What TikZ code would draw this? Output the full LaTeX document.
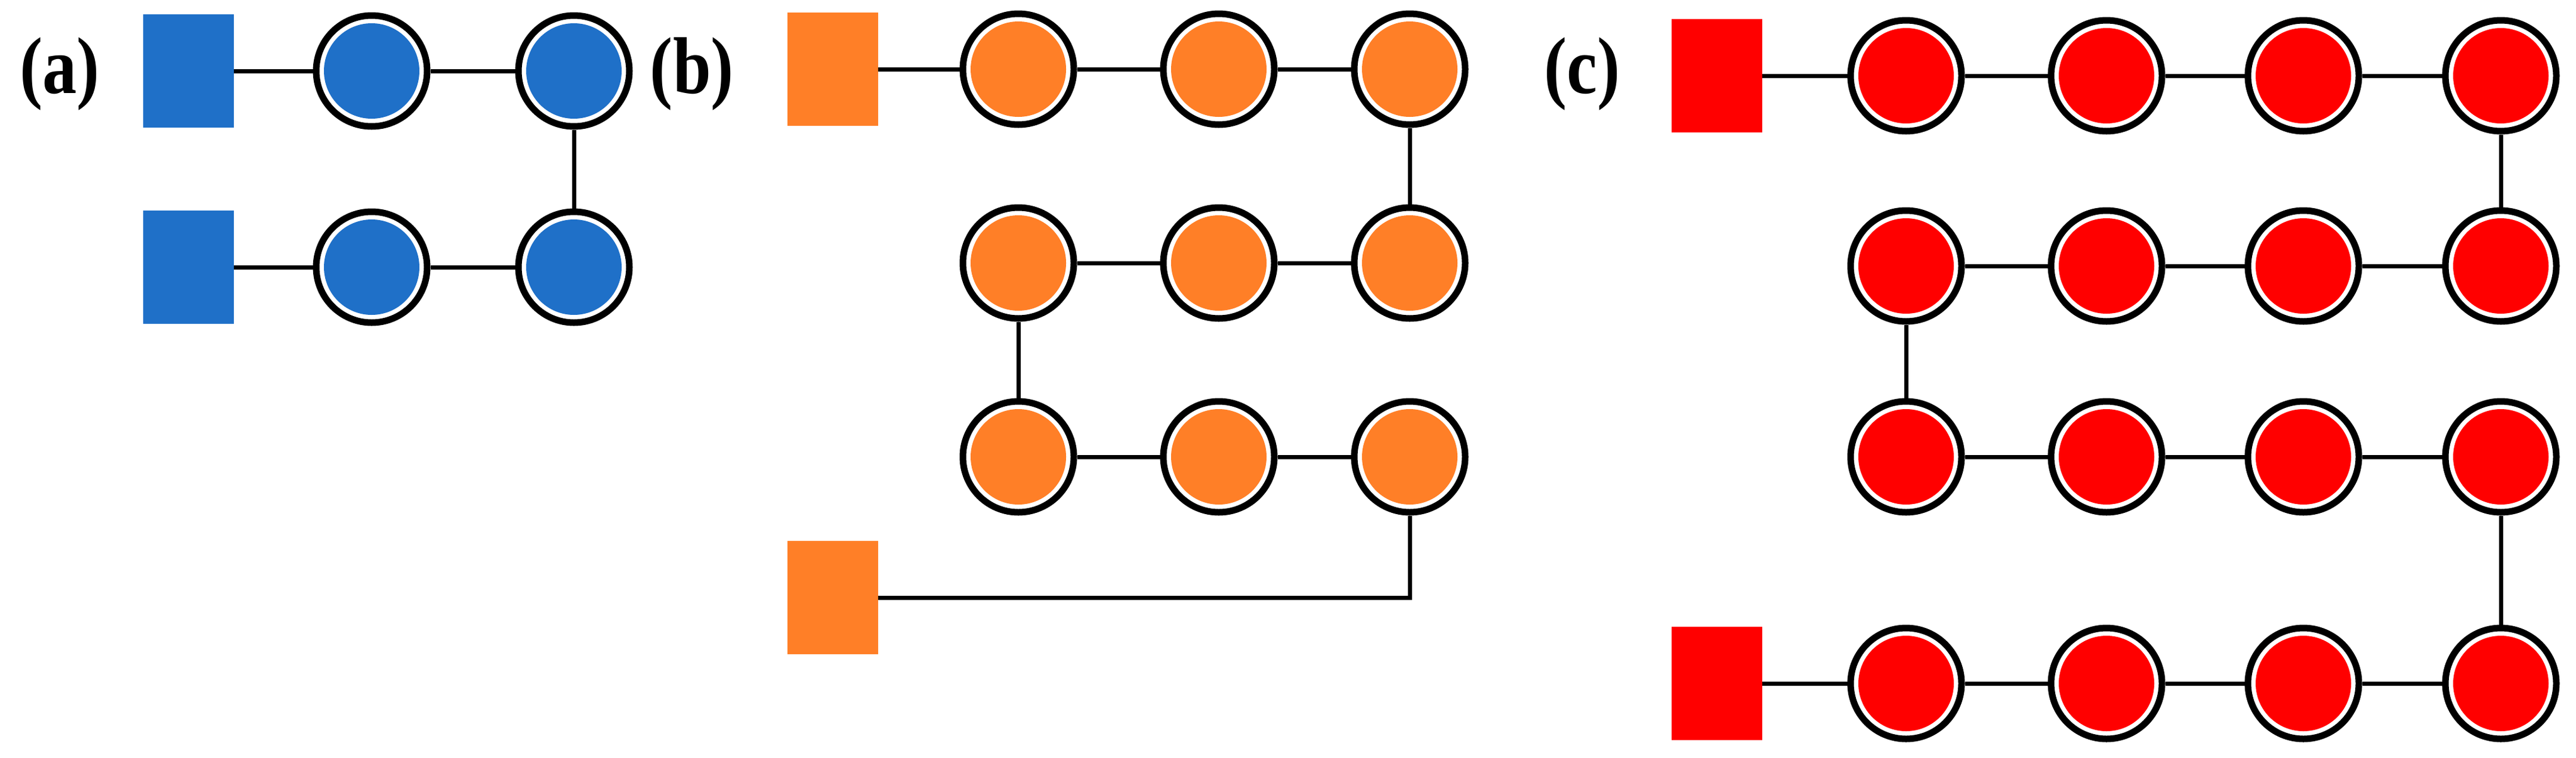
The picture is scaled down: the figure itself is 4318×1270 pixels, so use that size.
\documentclass[tikz,border=0pt]{standalone}
\usepackage{fontspec}
\setmainfont{Liberation Serif}
\begin{document}
\begin{tikzpicture}[x=1pt,y=-1pt,
 bead/.style={circle,draw=black,line width=11pt,fill=white,minimum size=186pt,inner sep=0pt,
   path picture={\fill[#1] (path picture bounding box.center) circle (80pt);}},
 sq/.style={rectangle,fill=#1,minimum width=152pt,minimum height=190pt,inner sep=0pt},
 lnk/.style={line width=7pt},
 lab/.style={font=\bfseries\fontsize{135}{135}\selectfont,inner sep=0pt,xscale=0.85}]
\definecolor{cb}{HTML}{1F70C8}
\definecolor{co}{HTML}{FF7F27}
\definecolor{cr}{HTML}{FF0000}
\useasboundingbox (0,0) rectangle (4318,1270);
% (a)
\node[lab] (la) at (100,124) {(a)};
\node[sq=cb] (a0) at (316,119) {};
\node[bead=cb] (a1) at (623,119) {};
\node[bead=cb] (a2) at (962,119) {};
\node[bead=cb] (a3) at (962,448) {};
\node[bead=cb] (a4) at (623,448) {};
\node[sq=cb] (a5) at (316,448) {};
\draw[lnk] (a0)--(a1) (a1)--(a2) (a2)--(a3) (a3)--(a4) (a4)--(a5);
% (b)
\node[lab] (lb) at (1160,124) {(b)};
\node[sq=co] (b0) at (1396,116) {};
\node[bead=co] (b1) at (1707,116) {};
\node[bead=co] (b2) at (2043,116) {};
\node[bead=co] (b3) at (2363,116) {};
\node[bead=co] (b4) at (2363,441) {};
\node[bead=co] (b5) at (2043,441) {};
\node[bead=co] (b6) at (1707,441) {};
\node[bead=co] (b7) at (1707,766) {};
\node[bead=co] (b8) at (2043,766) {};
\node[bead=co] (b9) at (2363,766) {};
\node[sq=co] (b10) at (1396,1002) {};
\coordinate (bc) at (2363,1002);
\draw[lnk] (b0)--(b1) (b1)--(b2) (b2)--(b3) (b3)--(b4) (b4)--(b5) (b5)--(b6) (b6)--(b7) (b7)--(b8) (b8)--(b9) (b9)--(bc)--(b10);
% (c)
\node[lab] (lc) at (2652,124) {(c)};
\node[sq=cr] (c0) at (2878,127) {};
\foreach \i/\x in {1/3195,2/3531,3/3861,4/4192}{
  \node[bead=cr] (r1\i) at (\x,127) {};
  \node[bead=cr] (r2\i) at (\x,446) {};
  \node[bead=cr] (r3\i) at (\x,766) {};
  \node[bead=cr] (r4\i) at (\x,1146) {};
}
\node[sq=cr] (c5) at (2878,1146) {};
\draw[lnk] (c0)--(r11) (r11)--(r12) (r12)--(r13) (r13)--(r14) (r14)--(r24)
 (r24)--(r23) (r23)--(r22) (r22)--(r21) (r21)--(r31) (r31)--(r32) (r32)--(r33) (r33)--(r34)
 (r34)--(r44) (r44)--(r43) (r43)--(r42) (r42)--(r41) (r41)--(c5);
\end{tikzpicture}
\end{document}
